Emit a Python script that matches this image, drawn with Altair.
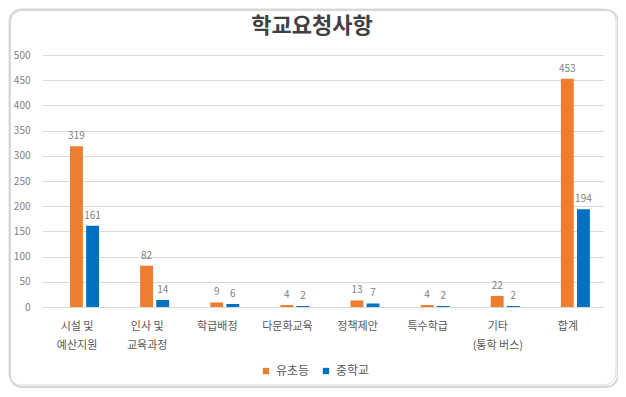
import altair as alt
import pandas as pd

categories = ["시설 및\n예산지원", "인사 및\n교육과정", "학급배정", "다문화교육", "정책제안", "특수학급", "기타\n(통학 버스)", "합계"]
series_names = ["유초등", "중학교"]
elementary = [319, 82, 9, 4, 13, 4, 22, 453]
middle = [161, 14, 6, 2, 7, 2, 2, 194]
y_ticks = [0, 50, 100, 150, 200, 250, 300, 350, 400, 450, 500]
colors = ["#ED7D31", "#0070C0"]
title_text = "학교요청사항"

rows = []
for c, a, b in zip(categories, elementary, middle):
    rows.append({"category": c, "series": series_names[0], "value": a})
    rows.append({"category": c, "series": series_names[1], "value": b})
df = pd.DataFrame(rows)

FONT = "Noto Sans CJK KR"

x_enc = alt.X("category:N", sort=categories,
              scale=alt.Scale(paddingInner=0, paddingOuter=0),
              axis=alt.Axis(title=None, labelExpr="split(datum.label, '\\n')",
                            labelAngle=0, labelFontSize=11, labelColor="#595959",
                            labelFont=FONT, labelPadding=13, labelLineHeight=19,
                            ticks=False, domain=False, grid=False))
xoff = alt.XOffset("series:N", sort=series_names,
                   scale=alt.Scale(domain=series_names, range=[28, 57],
                                   paddingInner=0.2, paddingOuter=0))
y_enc = alt.Y("value:Q", scale=alt.Scale(domain=[0, 500], nice=False),
              axis=alt.Axis(title=None, values=y_ticks, labelFontSize=10,
                            labelColor="#7f7f7f", labelFont=FONT, ticks=False,
                            labelOverlap=False, tickCount=11,
                            domain=False, gridColor="#d9d9d9", labelPadding=12))

one = pd.DataFrame({"k": [0]})
shadow = alt.Chart(one).mark_rect(cornerRadius=12, fillOpacity=0, stroke="#bdbdbd",
                                 strokeWidth=2, strokeOpacity=0.6).encode(
    x=alt.value(-32), x2=alt.value(576), y=alt.value(-45), y2=alt.value(332))
border = alt.Chart(one).mark_rect(cornerRadius=12, fillOpacity=0, stroke="#d9d9d9",
                                 strokeWidth=1).encode(
    x=alt.value(-33), x2=alt.value(574), y=alt.value(-46), y2=alt.value(330))
title = alt.Chart(one).mark_text(text=title_text, fontSize=22, font=FONT, fontWeight="bold",
                                color="#404040", baseline="middle", align="center").encode(
    x=alt.value(270), y=alt.value(-29))

bars = alt.Chart(df).mark_bar().encode(
    x=x_enc, xOffset=xoff, y=y_enc,
    color=alt.Color("series:N", sort=series_names,
                    scale=alt.Scale(domain=series_names, range=colors),
                    legend=alt.Legend(title=None, orient="none", direction="horizontal",
                                      legendX=218, legendY=310, symbolType="square",
                                      symbolSize=40, labelFontSize=12, labelColor="#595959",
                                      labelFont=FONT, columnPadding=10, symbolOffset=0))
)
labels = alt.Chart(df).mark_text(baseline="bottom", dy=-5, fontSize=10,
                                 color="#7f7f7f", font=FONT).encode(
    x=x_enc, xOffset=xoff, y=y_enc,
    text="value:Q")

chart = alt.layer(bars, labels, shadow, border, title).properties(
    width=561, height=252,
    autosize=alt.AutoSizeParams(type="none"),
    padding={"left": 34, "top": 47, "right": 15, "bottom": 82},
).configure_view(stroke=None)

chart.save("out.html", embed_options={"renderer": "svg", "actions": False})
